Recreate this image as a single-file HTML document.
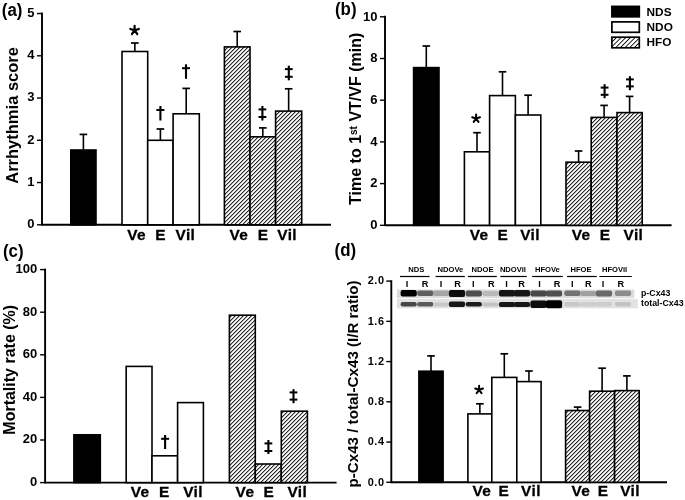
<!DOCTYPE html>
<html><head><meta charset="utf-8"><style>
html,body{margin:0;padding:0;background:#fff;width:685px;height:500px;overflow:hidden}
svg{display:block;will-change:transform}
text{font-family:"Liberation Sans", sans-serif;font-weight:bold;fill:#000}
</style></head><body>
<svg width="685" height="500" viewBox="0 0 685 500">
<defs>
<pattern id="hatch" patternUnits="userSpaceOnUse" x="0" y="0" width="4" height="4">
<rect x="0" y="0" width="4" height="4" fill="#fff"/>
<rect x="1" y="0" width="1" height="1" fill="#e6e6e6"/><rect x="2" y="0" width="1" height="1" fill="#2a2a2a"/><rect x="3" y="0" width="1" height="1" fill="#a8a8a8"/><rect x="0" y="1" width="1" height="1" fill="#e6e6e6"/><rect x="1" y="1" width="1" height="1" fill="#2a2a2a"/><rect x="2" y="1" width="1" height="1" fill="#a8a8a8"/><rect x="0" y="2" width="1" height="1" fill="#2a2a2a"/><rect x="1" y="2" width="1" height="1" fill="#a8a8a8"/><rect x="3" y="2" width="1" height="1" fill="#e6e6e6"/><rect x="0" y="3" width="1" height="1" fill="#a8a8a8"/><rect x="2" y="3" width="1" height="1" fill="#e6e6e6"/><rect x="3" y="3" width="1" height="1" fill="#2a2a2a"/>
</pattern>
<pattern id="lhatch" patternUnits="userSpaceOnUse" width="3.3" height="10" patternTransform="rotate(45)">
<rect x="0" y="0" width="0.85" height="10" fill="#000"/>
</pattern>
<filter id="blur" x="-20%" y="-50%" width="140%" height="200%"><feGaussianBlur stdDeviation="0.7"/></filter>
</defs>
<rect width="685" height="500" fill="#fff"/>
<line x1="42" y1="12.6" x2="42" y2="225.6" stroke="#000" stroke-width="1.9"/>
<line x1="37" y1="224.8" x2="42" y2="224.8" stroke="#000" stroke-width="1.4"/>
<text x="34.6" y="228.23700000000002" font-size="13" text-anchor="end" >0</text>
<line x1="37" y1="182.55" x2="42" y2="182.55" stroke="#000" stroke-width="1.4"/>
<text x="34.6" y="185.98700000000002" font-size="13" text-anchor="end" >1</text>
<line x1="37" y1="140.3" x2="42" y2="140.3" stroke="#000" stroke-width="1.4"/>
<text x="34.6" y="143.73700000000002" font-size="13" text-anchor="end" >2</text>
<line x1="37" y1="98.05000000000001" x2="42" y2="98.05000000000001" stroke="#000" stroke-width="1.4"/>
<text x="34.6" y="101.48700000000002" font-size="13" text-anchor="end" >3</text>
<line x1="37" y1="55.80000000000001" x2="42" y2="55.80000000000001" stroke="#000" stroke-width="1.4"/>
<text x="34.6" y="59.23700000000001" font-size="13" text-anchor="end" >4</text>
<line x1="37" y1="13.550000000000011" x2="42" y2="13.550000000000011" stroke="#000" stroke-width="1.4"/>
<text x="34.6" y="16.98700000000001" font-size="13" text-anchor="end" >5</text>
<line x1="42" y1="224.8" x2="331" y2="224.8" stroke="#000" stroke-width="1.9"/>
<line x1="83.4" y1="150.0" x2="83.4" y2="134.4" stroke="#000" stroke-width="1.6"/>
<line x1="79.60000000000001" y1="134.4" x2="87.2" y2="134.4" stroke="#000" stroke-width="1.7"/>
<rect x="70.8" y="150.0" width="25.200000000000003" height="74.80000000000001" fill="#000" stroke="#000" stroke-width="1.6"/>
<line x1="134.85" y1="51.5" x2="134.85" y2="43.0" stroke="#000" stroke-width="1.6"/>
<line x1="131.04999999999998" y1="43.0" x2="138.65" y2="43.0" stroke="#000" stroke-width="1.7"/>
<rect x="122" y="51.5" width="25.69999999999999" height="173.3" fill="#fff" stroke="#000" stroke-width="1.6"/>
<line x1="160.39999999999998" y1="140.3" x2="160.39999999999998" y2="129.0" stroke="#000" stroke-width="1.6"/>
<line x1="156.59999999999997" y1="129.0" x2="164.2" y2="129.0" stroke="#000" stroke-width="1.7"/>
<rect x="147.7" y="140.3" width="25.400000000000006" height="84.5" fill="#fff" stroke="#000" stroke-width="1.6"/>
<line x1="186.2" y1="113.8" x2="186.2" y2="88.4" stroke="#000" stroke-width="1.6"/>
<line x1="182.39999999999998" y1="88.4" x2="190.0" y2="88.4" stroke="#000" stroke-width="1.7"/>
<rect x="173.1" y="113.8" width="26.200000000000017" height="111.00000000000001" fill="#fff" stroke="#000" stroke-width="1.6"/>
<line x1="237.2" y1="46.9" x2="237.2" y2="31.5" stroke="#000" stroke-width="1.6"/>
<line x1="233.39999999999998" y1="31.5" x2="241.0" y2="31.5" stroke="#000" stroke-width="1.7"/>
<rect x="224.4" y="46.9" width="25.599999999999994" height="177.9" fill="url(#hatch)" stroke="#000" stroke-width="1.6"/>
<line x1="262.8" y1="136.8" x2="262.8" y2="127.9" stroke="#000" stroke-width="1.6"/>
<line x1="259.0" y1="127.9" x2="266.6" y2="127.9" stroke="#000" stroke-width="1.7"/>
<rect x="250" y="136.8" width="25.600000000000023" height="88.0" fill="url(#hatch)" stroke="#000" stroke-width="1.6"/>
<line x1="288.65" y1="111.1" x2="288.65" y2="88.8" stroke="#000" stroke-width="1.6"/>
<line x1="284.84999999999997" y1="88.8" x2="292.45" y2="88.8" stroke="#000" stroke-width="1.7"/>
<rect x="275.6" y="111.1" width="26.099999999999966" height="113.70000000000002" fill="url(#hatch)" stroke="#000" stroke-width="1.6"/>
<path d="M134.60,30.35L134.60,25.85M134.60,30.35L138.88,28.96M134.60,30.35L130.32,28.96M134.60,30.35L131.95,33.99M134.60,30.35L137.25,33.99" stroke="#000" stroke-width="2.2" stroke-linecap="round" fill="none"/>
<rect x="159.35" y="106" width="2.1" height="14.5" fill="#000"/>
<rect x="156.4" y="109" width="8" height="2" fill="#000"/>
<rect x="184.95" y="64.3" width="2.1" height="14.5" fill="#000"/>
<rect x="182.0" y="67.2" width="8" height="2" fill="#000"/>
<rect x="261.34999999999997" y="106" width="2.1" height="14.5" fill="#000"/>
<rect x="258.5" y="108.4" width="7.8" height="2" fill="#000"/>
<rect x="258.5" y="116" width="7.8" height="2" fill="#000"/>
<rect x="287.75" y="65.7" width="2.1" height="14.599999999999994" fill="#000"/>
<rect x="284.90000000000003" y="68.1" width="7.8" height="2" fill="#000"/>
<rect x="284.90000000000003" y="75.8" width="7.8" height="2" fill="#000"/>
<text x="127.2" y="240.2" font-size="15.4" text-anchor="start" letter-spacing="0.4" stroke="#000" stroke-width="0.3">Ve</text>
<text x="155.29999999999998" y="240.2" font-size="15.4" text-anchor="start" letter-spacing="0.4" stroke="#000" stroke-width="0.3">E</text>
<text x="175.5" y="240.2" font-size="15.4" text-anchor="start" letter-spacing="0.4" stroke="#000" stroke-width="0.3">Vil</text>
<text x="229.39999999999998" y="240.2" font-size="15.4" text-anchor="start" letter-spacing="0.4" stroke="#000" stroke-width="0.3">Ve</text>
<text x="257.7" y="240.2" font-size="15.4" text-anchor="start" letter-spacing="0.4" stroke="#000" stroke-width="0.3">E</text>
<text x="277.3" y="240.2" font-size="15.4" text-anchor="start" letter-spacing="0.4" stroke="#000" stroke-width="0.3">Vil</text>
<text x="0" y="0" font-size="16.5" text-anchor="middle" transform="translate(18.2,115.4) rotate(-90)" >Arrhythmia score</text>
<text x="0" y="0" font-size="17.4" transform="translate(1.8,16.1) scale(0.97,1.1)">(a)</text>
<line x1="385.0" y1="15.700000000000001" x2="385.0" y2="226.1" stroke="#000" stroke-width="1.9"/>
<line x1="380.0" y1="225.3" x2="385.0" y2="225.3" stroke="#000" stroke-width="1.4"/>
<text x="377.4" y="229.13700000000003" font-size="13" text-anchor="end" >0</text>
<line x1="380.0" y1="183.60000000000002" x2="385.0" y2="183.60000000000002" stroke="#000" stroke-width="1.4"/>
<text x="377.4" y="187.43700000000004" font-size="13" text-anchor="end" >2</text>
<line x1="380.0" y1="141.9" x2="385.0" y2="141.9" stroke="#000" stroke-width="1.4"/>
<text x="377.4" y="145.73700000000002" font-size="13" text-anchor="end" >4</text>
<line x1="380.0" y1="100.2" x2="385.0" y2="100.2" stroke="#000" stroke-width="1.4"/>
<text x="377.4" y="104.037" font-size="13" text-anchor="end" >6</text>
<line x1="380.0" y1="58.5" x2="385.0" y2="58.5" stroke="#000" stroke-width="1.4"/>
<text x="377.4" y="62.336999999999996" font-size="13" text-anchor="end" >8</text>
<line x1="380.0" y1="16.80000000000001" x2="385.0" y2="16.80000000000001" stroke="#000" stroke-width="1.4"/>
<text x="377.4" y="20.63700000000001" font-size="13" text-anchor="end" >10</text>
<line x1="385.0" y1="225.3" x2="671.6" y2="225.3" stroke="#000" stroke-width="1.9"/>
<line x1="426.3" y1="67.6" x2="426.3" y2="46.0" stroke="#000" stroke-width="1.6"/>
<line x1="422.5" y1="46.0" x2="430.1" y2="46.0" stroke="#000" stroke-width="1.7"/>
<rect x="413.6" y="67.6" width="25.399999999999977" height="157.70000000000002" fill="#000" stroke="#000" stroke-width="1.6"/>
<line x1="477.0" y1="151.8" x2="477.0" y2="132.7" stroke="#000" stroke-width="1.6"/>
<line x1="473.2" y1="132.7" x2="480.8" y2="132.7" stroke="#000" stroke-width="1.7"/>
<rect x="464.4" y="151.8" width="25.200000000000045" height="73.5" fill="#fff" stroke="#000" stroke-width="1.6"/>
<line x1="502.5" y1="95.6" x2="502.5" y2="71.8" stroke="#000" stroke-width="1.6"/>
<line x1="498.7" y1="71.8" x2="506.3" y2="71.8" stroke="#000" stroke-width="1.7"/>
<rect x="489.6" y="95.6" width="25.799999999999955" height="129.70000000000002" fill="#fff" stroke="#000" stroke-width="1.6"/>
<line x1="528.0999999999999" y1="115" x2="528.0999999999999" y2="95.2" stroke="#000" stroke-width="1.6"/>
<line x1="524.3" y1="95.2" x2="531.8999999999999" y2="95.2" stroke="#000" stroke-width="1.7"/>
<rect x="515.4" y="115" width="25.399999999999977" height="110.30000000000001" fill="#fff" stroke="#000" stroke-width="1.6"/>
<line x1="578.6" y1="162.2" x2="578.6" y2="151" stroke="#000" stroke-width="1.6"/>
<line x1="574.8000000000001" y1="151" x2="582.4" y2="151" stroke="#000" stroke-width="1.7"/>
<rect x="566" y="162.2" width="25.200000000000045" height="63.10000000000002" fill="url(#hatch)" stroke="#000" stroke-width="1.6"/>
<line x1="604.1" y1="117.4" x2="604.1" y2="105.4" stroke="#000" stroke-width="1.6"/>
<line x1="600.3000000000001" y1="105.4" x2="607.9" y2="105.4" stroke="#000" stroke-width="1.7"/>
<rect x="591.2" y="117.4" width="25.799999999999955" height="107.9" fill="url(#hatch)" stroke="#000" stroke-width="1.6"/>
<line x1="629.6" y1="112.6" x2="629.6" y2="96.4" stroke="#000" stroke-width="1.6"/>
<line x1="625.8000000000001" y1="96.4" x2="633.4" y2="96.4" stroke="#000" stroke-width="1.7"/>
<rect x="617" y="112.6" width="25.200000000000045" height="112.70000000000002" fill="url(#hatch)" stroke="#000" stroke-width="1.6"/>
<path d="M476.10,118.50L476.10,114.40M476.10,118.50L480.00,117.23M476.10,118.50L472.20,117.23M476.10,118.50L473.69,121.82M476.10,118.50L478.51,121.82" stroke="#000" stroke-width="2.0" stroke-linecap="round" fill="none"/>
<rect x="603.5500000000001" y="84.2" width="2.1" height="14.0" fill="#000"/>
<rect x="600.7" y="86.6" width="7.8" height="2" fill="#000"/>
<rect x="600.7" y="93.8" width="7.8" height="2" fill="#000"/>
<rect x="628.85" y="76.2" width="2.1" height="14.0" fill="#000"/>
<rect x="626.0" y="78.4" width="7.8" height="2" fill="#000"/>
<rect x="626.0" y="85.4" width="7.8" height="2" fill="#000"/>
<text x="469.7" y="240.4" font-size="15.4" text-anchor="start" letter-spacing="0.4" stroke="#000" stroke-width="0.3">Ve</text>
<text x="497.5" y="240.4" font-size="15.4" text-anchor="start" letter-spacing="0.4" stroke="#000" stroke-width="0.3">E</text>
<text x="520.2" y="240.4" font-size="15.4" text-anchor="start" letter-spacing="0.4" stroke="#000" stroke-width="0.3">Vil</text>
<text x="571.8000000000001" y="240.4" font-size="15.4" text-anchor="start" letter-spacing="0.4" stroke="#000" stroke-width="0.3">Ve</text>
<text x="599.8000000000001" y="240.4" font-size="15.4" text-anchor="start" letter-spacing="0.4" stroke="#000" stroke-width="0.3">E</text>
<text x="623.5" y="240.4" font-size="15.4" text-anchor="start" letter-spacing="0.4" stroke="#000" stroke-width="0.3">Vil</text>
<text x="0" y="0" font-size="16" text-anchor="middle" transform="translate(360.9,118.8) rotate(-90)" >Time to 1<tspan font-size="10" dy="-4.4">st</tspan><tspan dy="4.4"> VT/VF (min)</tspan></text>
<text x="0" y="0" font-size="17.4" transform="translate(335.0,15.2) scale(0.97,1.1)">(b)</text>
<rect x="611.9" y="6.4" width="27.4" height="10.4" fill="#000" stroke="#000" stroke-width="1.7"/>
<rect x="611.9" y="21.9" width="27.4" height="10.4" fill="#fff" stroke="#000" stroke-width="1.7"/>
<rect x="611.9" y="37.2" width="27.4" height="10.6" fill="url(#lhatch)" stroke="#000" stroke-width="1.7"/>
<text x="646.6" y="15.6" font-size="11.8" text-anchor="start" >NDS</text>
<text x="646.6" y="31.0" font-size="11.8" text-anchor="start" >NDO</text>
<text x="646.6" y="46.4" font-size="11.8" text-anchor="start" >HFO</text>
<line x1="45.1" y1="268.6" x2="45.1" y2="483.4" stroke="#000" stroke-width="1.9"/>
<line x1="40.1" y1="482.6" x2="45.1" y2="482.6" stroke="#000" stroke-width="1.4"/>
<text x="37.2" y="486.037" font-size="13" text-anchor="end" >0</text>
<line x1="40.1" y1="440.0" x2="45.1" y2="440.0" stroke="#000" stroke-width="1.4"/>
<text x="37.2" y="443.43699999999995" font-size="13" text-anchor="end" >20</text>
<line x1="40.1" y1="397.40000000000003" x2="45.1" y2="397.40000000000003" stroke="#000" stroke-width="1.4"/>
<text x="37.2" y="400.837" font-size="13" text-anchor="end" >40</text>
<line x1="40.1" y1="354.8" x2="45.1" y2="354.8" stroke="#000" stroke-width="1.4"/>
<text x="37.2" y="358.23699999999997" font-size="13" text-anchor="end" >60</text>
<line x1="40.1" y1="312.20000000000005" x2="45.1" y2="312.20000000000005" stroke="#000" stroke-width="1.4"/>
<text x="37.2" y="315.637" font-size="13" text-anchor="end" >80</text>
<line x1="40.1" y1="269.6" x2="45.1" y2="269.6" stroke="#000" stroke-width="1.4"/>
<text x="37.2" y="273.037" font-size="13" text-anchor="end" >100</text>
<line x1="45.1" y1="482.6" x2="336.6" y2="482.6" stroke="#000" stroke-width="1.9"/>
<rect x="73.9" y="434.8" width="26.39999999999999" height="47.80000000000001" fill="#000" stroke="#000" stroke-width="1.6"/>
<rect x="126.2" y="366.4" width="25.799999999999997" height="116.20000000000005" fill="#fff" stroke="#000" stroke-width="1.6"/>
<rect x="152" y="455.8" width="25.599999999999994" height="26.80000000000001" fill="#fff" stroke="#000" stroke-width="1.6"/>
<rect x="177.6" y="402.6" width="25.80000000000001" height="80.0" fill="#fff" stroke="#000" stroke-width="1.6"/>
<rect x="229.4" y="315.2" width="25.900000000000006" height="167.40000000000003" fill="url(#hatch)" stroke="#000" stroke-width="1.6"/>
<rect x="255.3" y="464" width="26.0" height="18.600000000000023" fill="url(#hatch)" stroke="#000" stroke-width="1.6"/>
<rect x="281.3" y="411.2" width="26.099999999999966" height="71.40000000000003" fill="url(#hatch)" stroke="#000" stroke-width="1.6"/>
<rect x="164.04999999999998" y="435" width="2.1" height="14" fill="#000"/>
<rect x="161.1" y="437.8" width="8" height="2" fill="#000"/>
<rect x="267.34999999999997" y="440" width="2.1" height="14" fill="#000"/>
<rect x="264.5" y="442.4" width="7.8" height="2" fill="#000"/>
<rect x="264.5" y="450" width="7.8" height="2" fill="#000"/>
<rect x="292.45" y="389.2" width="2.1" height="14.0" fill="#000"/>
<rect x="289.6" y="391.4" width="7.8" height="2" fill="#000"/>
<rect x="289.6" y="398.6" width="7.8" height="2" fill="#000"/>
<text x="130.7" y="497" font-size="15.4" text-anchor="start" letter-spacing="0.4" stroke="#000" stroke-width="0.3">Ve</text>
<text x="159.0" y="497" font-size="15.4" text-anchor="start" letter-spacing="0.4" stroke="#000" stroke-width="0.3">E</text>
<text x="183.2" y="497" font-size="15.4" text-anchor="start" letter-spacing="0.4" stroke="#000" stroke-width="0.3">Vil</text>
<text x="235.6" y="497" font-size="15.4" text-anchor="start" letter-spacing="0.4" stroke="#000" stroke-width="0.3">Ve</text>
<text x="263.59999999999997" y="497" font-size="15.4" text-anchor="start" letter-spacing="0.4" stroke="#000" stroke-width="0.3">E</text>
<text x="287.4" y="497" font-size="15.4" text-anchor="start" letter-spacing="0.4" stroke="#000" stroke-width="0.3">Vil</text>
<text x="0" y="0" font-size="16" text-anchor="middle" transform="translate(15.0,369.8) rotate(-90)" >Mortality rate (%)</text>
<text x="0" y="0" font-size="17.4" transform="translate(3.0,256.5) scale(0.97,1.1)">(c)</text>
<line x1="391.3" y1="280.3" x2="391.3" y2="483.2" stroke="#000" stroke-width="1.9"/>
<line x1="386.3" y1="482.3" x2="391.3" y2="482.3" stroke="#000" stroke-width="1.4"/>
<text x="384.6" y="485.5041" font-size="10.9" text-anchor="end" letter-spacing="0.6">0.0</text>
<line x1="386.3" y1="442.06" x2="391.3" y2="442.06" stroke="#000" stroke-width="1.4"/>
<text x="384.6" y="445.2641" font-size="10.9" text-anchor="end" letter-spacing="0.6">0.4</text>
<line x1="386.3" y1="401.82" x2="391.3" y2="401.82" stroke="#000" stroke-width="1.4"/>
<text x="384.6" y="405.0241" font-size="10.9" text-anchor="end" letter-spacing="0.6">0.8</text>
<line x1="386.3" y1="361.58" x2="391.3" y2="361.58" stroke="#000" stroke-width="1.4"/>
<text x="384.6" y="364.78409999999997" font-size="10.9" text-anchor="end" letter-spacing="0.6">1.2</text>
<line x1="386.3" y1="321.34000000000003" x2="391.3" y2="321.34000000000003" stroke="#000" stroke-width="1.4"/>
<text x="384.6" y="324.5441" font-size="10.9" text-anchor="end" letter-spacing="0.6">1.6</text>
<line x1="386.3" y1="281.1" x2="391.3" y2="281.1" stroke="#000" stroke-width="1.4"/>
<text x="384.6" y="284.3041" font-size="10.9" text-anchor="end" letter-spacing="0.6">2.0</text>
<line x1="391.3" y1="482.3" x2="667" y2="482.3" stroke="#000" stroke-width="1.9"/>
<line x1="431.0" y1="371.2" x2="431.0" y2="355.9" stroke="#000" stroke-width="1.6"/>
<line x1="427.2" y1="355.9" x2="434.8" y2="355.9" stroke="#000" stroke-width="1.7"/>
<rect x="418.9" y="371.2" width="24.200000000000045" height="111.10000000000002" fill="#000" stroke="#000" stroke-width="1.6"/>
<line x1="479.85" y1="413.9" x2="479.85" y2="403.8" stroke="#000" stroke-width="1.6"/>
<line x1="476.05" y1="403.8" x2="483.65000000000003" y2="403.8" stroke="#000" stroke-width="1.7"/>
<rect x="467.9" y="413.9" width="23.900000000000034" height="68.40000000000003" fill="#fff" stroke="#000" stroke-width="1.6"/>
<line x1="504.29999999999995" y1="377.4" x2="504.29999999999995" y2="353.8" stroke="#000" stroke-width="1.6"/>
<line x1="500.49999999999994" y1="353.8" x2="508.09999999999997" y2="353.8" stroke="#000" stroke-width="1.7"/>
<rect x="491.8" y="377.4" width="24.999999999999943" height="104.90000000000003" fill="#fff" stroke="#000" stroke-width="1.6"/>
<line x1="528.95" y1="381.6" x2="528.95" y2="371" stroke="#000" stroke-width="1.6"/>
<line x1="525.1500000000001" y1="371" x2="532.75" y2="371" stroke="#000" stroke-width="1.7"/>
<rect x="516.8" y="381.6" width="24.300000000000068" height="100.69999999999999" fill="#fff" stroke="#000" stroke-width="1.6"/>
<line x1="577.6" y1="410.5" x2="577.6" y2="407.1" stroke="#000" stroke-width="1.6"/>
<line x1="573.8000000000001" y1="407.1" x2="581.4" y2="407.1" stroke="#000" stroke-width="1.7"/>
<rect x="565.6" y="410.5" width="24.0" height="71.80000000000001" fill="url(#hatch)" stroke="#000" stroke-width="1.6"/>
<line x1="602.1" y1="391.2" x2="602.1" y2="368.2" stroke="#000" stroke-width="1.6"/>
<line x1="598.3000000000001" y1="368.2" x2="605.9" y2="368.2" stroke="#000" stroke-width="1.7"/>
<rect x="589.6" y="391.2" width="25.0" height="91.10000000000002" fill="url(#hatch)" stroke="#000" stroke-width="1.6"/>
<line x1="626.9000000000001" y1="390.6" x2="626.9000000000001" y2="375.9" stroke="#000" stroke-width="1.6"/>
<line x1="623.1000000000001" y1="375.9" x2="630.7" y2="375.9" stroke="#000" stroke-width="1.7"/>
<rect x="614.6" y="390.6" width="24.600000000000023" height="91.69999999999999" fill="url(#hatch)" stroke="#000" stroke-width="1.6"/>
<path d="M479.10,389.80L479.10,385.70M479.10,389.80L483.00,388.53M479.10,389.80L475.20,388.53M479.10,389.80L476.69,393.12M479.10,389.80L481.51,393.12" stroke="#000" stroke-width="2.0" stroke-linecap="round" fill="none"/>
<text x="472.5" y="495.8" font-size="15.4" text-anchor="start" letter-spacing="0.4" stroke="#000" stroke-width="0.3">Ve</text>
<text x="498.59999999999997" y="495.8" font-size="15.4" text-anchor="start" letter-spacing="0.4" stroke="#000" stroke-width="0.3">E</text>
<text x="521.1" y="495.8" font-size="15.4" text-anchor="start" letter-spacing="0.4" stroke="#000" stroke-width="0.3">Vil</text>
<text x="571.5" y="495.8" font-size="15.4" text-anchor="start" letter-spacing="0.4" stroke="#000" stroke-width="0.3">Ve</text>
<text x="597.7" y="495.8" font-size="15.4" text-anchor="start" letter-spacing="0.4" stroke="#000" stroke-width="0.3">E</text>
<text x="620.2" y="495.8" font-size="15.4" text-anchor="start" letter-spacing="0.4" stroke="#000" stroke-width="0.3">Vil</text>
<text x="0" y="0" font-size="15.15" text-anchor="middle" transform="translate(357.7,384.0) rotate(-90)" >p-Cx43 / total-Cx43 (I/R ratio)</text>
<text x="0" y="0" font-size="17.4" transform="translate(334.6,256.2) scale(0.97,1.1)">(d)</text>
<rect x="396.8" y="289.5" width="237.5" height="8.6" fill="#dcdcdc"/>
<rect x="396.8" y="298.9" width="241" height="9.4" fill="#e2e2e2"/>
<rect x="400.6" y="290.1" width="16.2" height="6.5" rx="2" fill="rgb(5,5,5)" filter="url(#blur)"/>
<rect x="400.6" y="302.1" width="16.2" height="4.5" rx="2" fill="rgb(70,70,70)" filter="url(#blur)"/>
<rect x="417.2" y="290.6" width="16.2" height="5.5" rx="2" fill="rgb(95,95,95)" filter="url(#blur)"/>
<rect x="417.2" y="302.1" width="16.2" height="4.5" rx="2" fill="rgb(90,90,90)" filter="url(#blur)"/>
<rect x="432.9" y="290.6" width="16.2" height="5.5" rx="2" fill="rgb(165,165,165)" filter="url(#blur)"/>
<rect x="432.9" y="302.4" width="16.2" height="4" rx="2" fill="rgb(200,200,200)" filter="url(#blur)"/>
<rect x="448.9" y="289.9" width="16.2" height="7" rx="2" fill="rgb(10,10,10)" filter="url(#blur)"/>
<rect x="448.9" y="301.6" width="16.2" height="5.5" rx="2" fill="rgb(20,20,20)" filter="url(#blur)"/>
<rect x="465.7" y="290.4" width="16.2" height="6" rx="2" fill="rgb(80,80,80)" filter="url(#blur)"/>
<rect x="465.7" y="302.1" width="16.2" height="4.5" rx="2" fill="rgb(30,30,30)" filter="url(#blur)"/>
<rect x="482.4" y="290.9" width="16.2" height="5" rx="2" fill="rgb(185,185,185)" filter="url(#blur)"/>
<rect x="482.4" y="302.4" width="16.2" height="4" rx="2" fill="rgb(195,195,195)" filter="url(#blur)"/>
<rect x="498.9" y="290.1" width="16.2" height="6.5" rx="2" fill="rgb(25,25,25)" filter="url(#blur)"/>
<rect x="498.9" y="301.9" width="16.2" height="5" rx="2" fill="rgb(20,20,20)" filter="url(#blur)"/>
<rect x="513.9" y="290.1" width="16.2" height="6.5" rx="2" fill="rgb(25,25,25)" filter="url(#blur)"/>
<rect x="513.9" y="301.9" width="16.2" height="5" rx="2" fill="rgb(25,25,25)" filter="url(#blur)"/>
<rect x="530.4" y="290.4" width="16.2" height="6" rx="2" fill="rgb(70,70,70)" filter="url(#blur)"/>
<rect x="530.4" y="300.4" width="16.2" height="7.5" rx="2" fill="rgb(10,10,10)" filter="url(#blur)"/>
<rect x="545.9" y="290.4" width="16.2" height="6" rx="2" fill="rgb(80,80,80)" filter="url(#blur)"/>
<rect x="545.9" y="300.2" width="16.2" height="8" rx="2" fill="rgb(5,5,5)" filter="url(#blur)"/>
<rect x="564.3" y="290.6" width="16.2" height="5.5" rx="2" fill="rgb(115,115,115)" filter="url(#blur)"/>
<rect x="564.3" y="302.1" width="16.2" height="4.5" rx="2" fill="rgb(200,200,200)" filter="url(#blur)"/>
<rect x="580.1" y="290.9" width="16.2" height="5" rx="2" fill="rgb(160,160,160)" filter="url(#blur)"/>
<rect x="580.1" y="302.1" width="16.2" height="4.5" rx="2" fill="rgb(205,205,205)" filter="url(#blur)"/>
<rect x="595.9" y="290.4" width="16.2" height="6" rx="2" fill="rgb(105,105,105)" filter="url(#blur)"/>
<rect x="595.9" y="302.1" width="16.2" height="4.5" rx="2" fill="rgb(205,205,205)" filter="url(#blur)"/>
<rect x="614.9" y="290.6" width="16.2" height="5.5" rx="2" fill="rgb(140,140,140)" filter="url(#blur)"/>
<rect x="614.9" y="302.1" width="16.2" height="4.5" rx="2" fill="rgb(195,195,195)" filter="url(#blur)"/>
<line x1="400" y1="276.5" x2="429.5" y2="276.5" stroke="#000" stroke-width="1.2"/>
<text x="416.3" y="272.3" font-size="7.6" text-anchor="middle" >NDS</text>
<text x="407" y="287.3" font-size="9.2" text-anchor="middle" >I</text>
<text x="425.1" y="287.3" font-size="9.2" text-anchor="middle" >R</text>
<line x1="435.6" y1="276.5" x2="464.8" y2="276.5" stroke="#000" stroke-width="1.2"/>
<text x="450.4" y="272.3" font-size="7.6" text-anchor="middle" >NDOVe</text>
<text x="441" y="287.3" font-size="9.2" text-anchor="middle" >I</text>
<text x="457.5" y="287.3" font-size="9.2" text-anchor="middle" >R</text>
<line x1="467.9" y1="276.5" x2="496.8" y2="276.5" stroke="#000" stroke-width="1.2"/>
<text x="482.5" y="272.3" font-size="7.6" text-anchor="middle" >NDOE</text>
<text x="473.3" y="287.3" font-size="9.2" text-anchor="middle" >I</text>
<text x="491.2" y="287.3" font-size="9.2" text-anchor="middle" >R</text>
<line x1="500.3" y1="276.5" x2="526.8" y2="276.5" stroke="#000" stroke-width="1.2"/>
<text x="512.9" y="272.3" font-size="7.6" text-anchor="middle" >NDOVil</text>
<text x="506.5" y="287.3" font-size="9.2" text-anchor="middle" >I</text>
<text x="521.6" y="287.3" font-size="9.2" text-anchor="middle" >R</text>
<line x1="532.2" y1="276.5" x2="562.8" y2="276.5" stroke="#000" stroke-width="1.2"/>
<text x="547.4" y="272.3" font-size="7.6" text-anchor="middle" >HFOVe</text>
<text x="539.5" y="287.3" font-size="9.2" text-anchor="middle" >I</text>
<text x="557" y="287.3" font-size="9.2" text-anchor="middle" >R</text>
<line x1="567" y1="276.5" x2="596.8" y2="276.5" stroke="#000" stroke-width="1.2"/>
<text x="581" y="272.3" font-size="7.6" text-anchor="middle" >HFOE</text>
<text x="572.3" y="287.3" font-size="9.2" text-anchor="middle" >I</text>
<text x="588.3" y="287.3" font-size="9.2" text-anchor="middle" >R</text>
<line x1="599.4" y1="276.5" x2="631.8" y2="276.5" stroke="#000" stroke-width="1.2"/>
<text x="614.6" y="272.3" font-size="7.6" text-anchor="middle" >HFOVil</text>
<text x="603.1" y="287.3" font-size="9.2" text-anchor="middle" >I</text>
<text x="620.8" y="287.3" font-size="9.2" text-anchor="middle" >R</text>
<text x="641" y="295.6" font-size="8.8" text-anchor="start" >p-Cx43</text>
<text x="641" y="305.7" font-size="8.8" text-anchor="start" >total-Cx43</text>
</svg>
</body></html>
